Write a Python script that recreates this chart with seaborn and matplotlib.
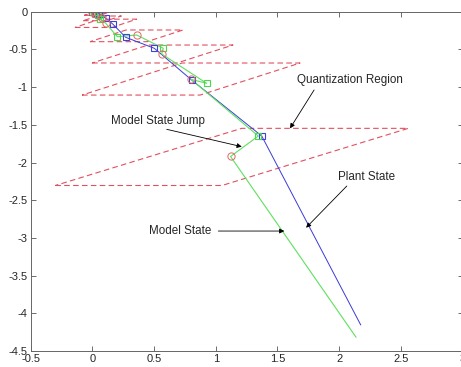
import matplotlib
matplotlib.use("Agg")
import matplotlib.pyplot as plt
import numpy as np
import pandas as pd
import seaborn as sns

# quantization regions (sheared boxes): centre, height, width, shear
region_cx = [0.03, 0.08, 0.109, 0.358, 0.569, 0.80, 1.13]
region_cy = [-0.03, -0.088, -0.154, -0.32, -0.561, -0.893, -1.926]
region_h = [0.035, 0.062, 0.11, 0.155, 0.238, 0.425, 0.758]
region_w = [0.12, 0.19, 0.30, 0.462, 0.688, 0.956, 1.35]
region_shear = [0.07, 0.12, 0.20, 0.292, 0.453, 0.81, 1.51]

# plant state (blue), sampled points get a square
plant_x = [0.0, 0.03, 0.057, 0.111, 0.165, 0.271, 0.502, 0.805, 1.373, 2.175]
plant_y = [-0.005, -0.015, -0.03, -0.088, -0.163, -0.34, -0.485, -0.906, -1.649, -4.155]

# model state (green): c = value after jump (circle), m = before jump (square)
model_x = [0.0, 0.015, 0.03, 0.05, 0.08, 0.063, 0.109, 0.203, 0.36, 0.575,
           0.562, 0.927, 0.80, 1.345, 1.12, 2.137]
model_y = [0.0, -0.01, -0.03, -0.045, -0.088, -0.097, -0.154, -0.332, -0.309,
           -0.485, -0.561, -0.95, -0.897, -1.649, -1.92, -4.318]
model_kind = ["c", "m", "c", "m", "c", "m", "c", "m", "c", "m",
              "c", "m", "c", "m", "c", "end"]

sns.set_style("ticks")
plt.rcParams["font.family"] = ["Liberation Sans", "DejaVu Sans"]

fig = plt.figure(figsize=(4.61, 3.67), dpi=100)
ax = fig.add_axes([0.0664, 0.0436, 0.937, 0.9245])

red = "#e2505e"
# quantization regions
for cx, cy, h, w, s in zip(region_cx, region_cy, region_h, region_w, region_shear):
    yb, yt = cy - h / 2, cy + h / 2
    xs = [cx - w / 2 - s / 2, cx + w / 2 - s / 2, cx + w / 2 + s / 2, cx - w / 2 + s / 2]
    ys = [yb, yb, yt, yt]
    ax.plot(xs + xs[:1], ys + ys[:1], color=red, lw=0.8, dashes=(5, 3))

plant = pd.DataFrame({"x": plant_x, "y": plant_y})
model = pd.DataFrame({"x": model_x, "y": model_y, "kind": model_kind})

sns.lineplot(data=plant, x="x", y="y", sort=False, estimator=None,
             color="#3a3ad8", lw=0.7, ax=ax)
sns.lineplot(data=model, x="x", y="y", sort=False, estimator=None,
             color="#5ee05e", lw=0.8, ax=ax)

ax.plot(plant_x[:-1], plant_y[:-1], ls="none", marker="s", ms=4.8,
        mfc="none", mec="#4040d8", mew=0.8)
mm = model[model["kind"] == "m"]
cc = model[model["kind"] == "c"]
ax.plot(mm["x"], mm["y"], ls="none", marker="s", ms=4.8,
        mfc="none", mec="#4cd84c", mew=0.8)
ax.plot(cc["x"], cc["y"], ls="none", marker="o", ms=5.2,
        mfc="none", mec="#e06868", mew=0.7)

arrow = dict(arrowstyle="-|>", color="black", lw=0.6, mutation_scale=7,
             shrinkA=0, shrinkB=0)
fs = 8.4
ax.annotate("", xy=(1.602, -1.547), xytext=(1.797, -1.038), arrowprops=arrow)
ax.text(2.086, -0.906, "Quantization Region", fontsize=fs, ha="center", va="center")
ax.annotate("", xy=(1.211, -1.79), xytext=(0.603, -1.56), arrowprops=arrow)
ax.text(0.528, -1.446, "Model State Jump", fontsize=fs, ha="center", va="center")
ax.annotate("", xy=(1.732, -2.865), xytext=(2.062, -2.312), arrowprops=arrow)
ax.text(2.226, -2.196, "Plant State", fontsize=fs, ha="center", va="center")
ax.annotate("", xy=(1.556, -2.909), xytext=(1.021, -2.909), arrowprops=arrow)
ax.text(0.711, -2.905, "Model State", fontsize=fs, ha="center", va="center")

ax.set_xlim(-0.5, 3)
ax.set_ylim(-4.5, 0)
ax.set_xticks(np.arange(-0.5, 3.01, 0.5))
ax.set_yticks(np.arange(-4.5, 0.01, 0.5))
ax.set_xticklabels(["-0.5", "0", "0.5", "1", "1.5", "2", "2.5", "3"])
ax.set_yticklabels(["-4.5", "-4", "-3.5", "-3", "-2.5", "-2", "-1.5", "-1", "-0.5", "0"])
ax.set_xlabel("")
ax.set_ylabel("")
ax.tick_params(direction="in", length=3.5, width=0.6, top=True, right=True,
               labelsize=8, color="#555555", pad=2)
for sp in ax.spines.values():
    sp.set_visible(True)
    sp.set_color("#666666")
    sp.set_linewidth(0.7)

fig.savefig("out.png", dpi=100)
